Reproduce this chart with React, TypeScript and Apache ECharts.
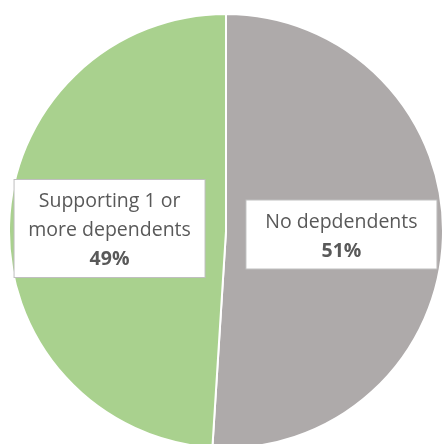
import React, { useEffect, useRef } from "react";
import * as echarts from "echarts";

const categories = ["No depdendents", "Supporting 1 or\nmore dependents"];
const values = [51, 49];
const colors = ["#AEAAAA", "#A9D18E"];
const labelShift = [[4, 0], [-5, 1]];

export default function App() {
  const ref = useRef<HTMLDivElement>(null);
  useEffect(() => {
    document.body.style.margin = "0";
    const chart = echarts.init(ref.current!, null, { renderer: "svg" });
    chart.setOption({
      animation: false,
      series: [
        {
          type: "pie",
          center: [226, 231],
          radius: [0, 217],
          startAngle: 90,
          clockwise: true,
          silent: true,
          data: categories.map((c, i) => ({
            name: c,
            value: values[i],
            itemStyle: { color: colors[i] },
            label: { offset: labelShift[i] },
          })),
          itemStyle: { borderColor: "#ffffff", borderWidth: 2 },
          label: {
            show: true,
            position: "inside",
            formatter: (p: any) => `{n|${p.name}}\n{v|${p.value}%}`,
            backgroundColor: "#ffffff",
            borderColor: "#BFBFBF",
            borderWidth: 1,
            padding: [5, 8, 5, 8],
            width: 174,
            align: "center",
            fontFamily: "Open Sans",
            rich: {
              n: {
                fontFamily: "Open Sans",
                fontSize: 19.5,
                lineHeight: 29,
                color: "#595959",
                align: "center",
              },
              v: {
                fontFamily: "Open Sans",
                fontSize: 19.5,
                lineHeight: 29,
                fontWeight: "bold",
                color: "#595959",
                align: "center",
              },
            },
          },
          labelLine: { show: false },
        },
      ],
    });
    return () => chart.dispose();
  }, []);
  return (
    <div
      ref={ref}
      style={{ position: "fixed", left: 0, top: 0, width: 446, height: 444 }}
    />
  );
}
